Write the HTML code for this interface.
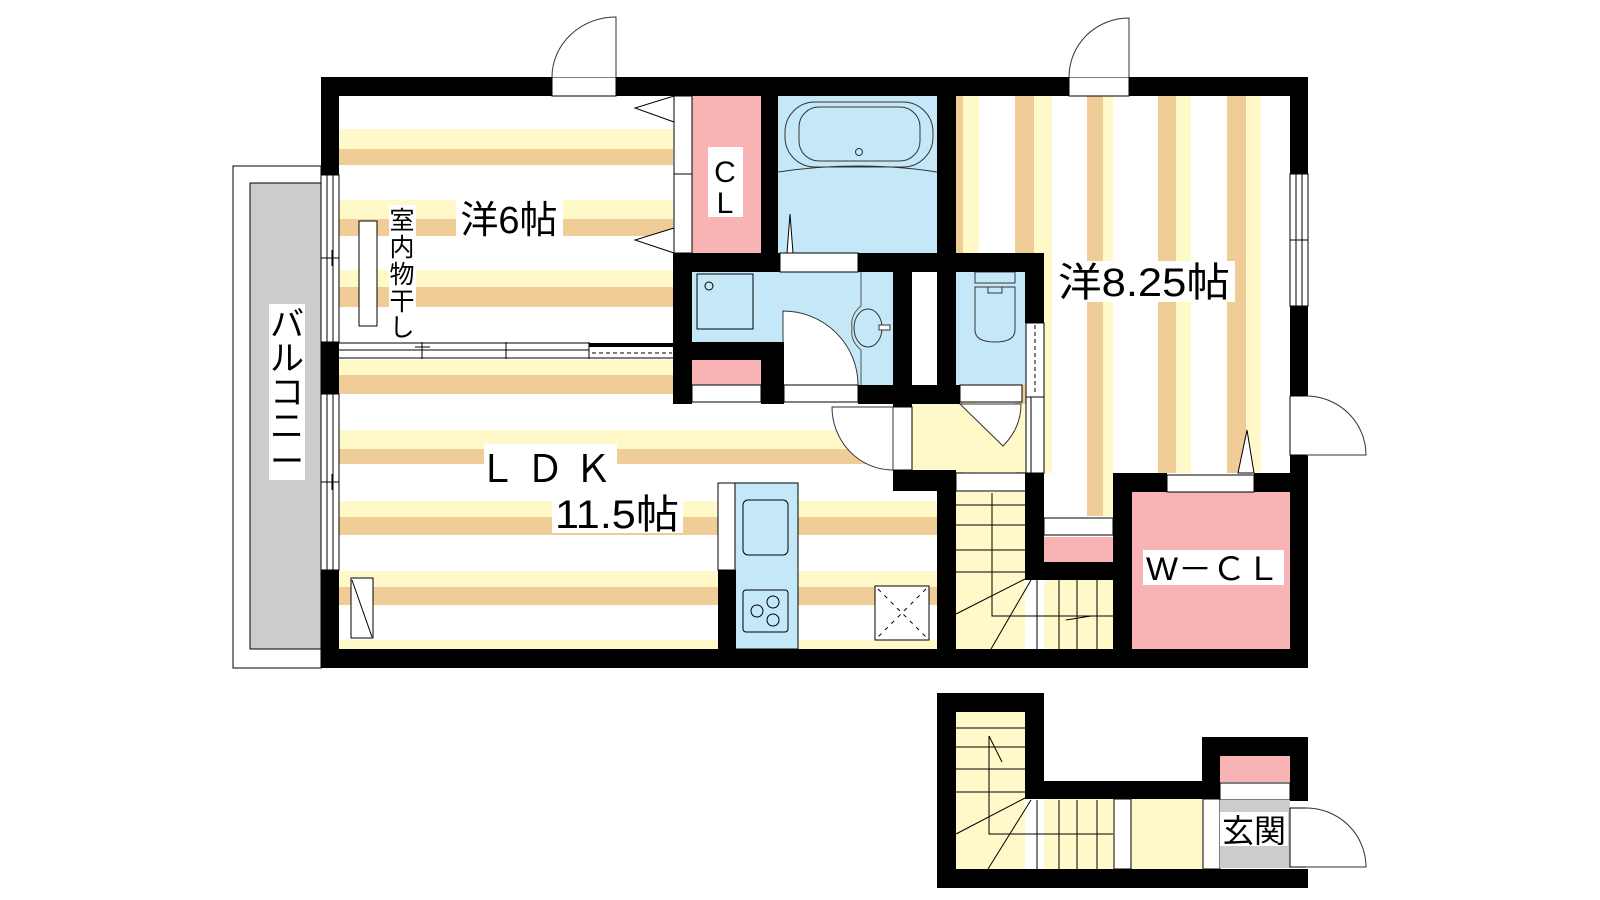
<!DOCTYPE html>
<html><head><meta charset="utf-8"><style>
html,body{margin:0;padding:0;background:#fff;}
svg{display:block;}
text{font-family:"Liberation Sans","Noto Sans CJK JP",sans-serif;fill:#000;}
</style></head><body>
<svg width="1600" height="900" viewBox="0 0 1600 900" xmlns="http://www.w3.org/2000/svg">
<rect width="1600" height="900" fill="#fff"/>
<!-- balcony -->
<rect x="233" y="166" width="88" height="502" fill="#fff" stroke="#000" stroke-width="1"/>
<rect x="250" y="183" width="71" height="466" fill="#ccc" stroke="#000" stroke-width="1"/>

<!-- 6 room stripes -->
<g>
<rect x="339" y="129" width="334" height="20" fill="#fff8c8"/><rect x="339" y="149" width="334" height="16" fill="#f0cc96"/>
<rect x="339" y="200" width="334" height="19" fill="#fff8c8"/><rect x="339" y="219" width="334" height="17" fill="#f0cc96"/>
<rect x="339" y="270" width="334" height="17" fill="#fff8c8"/><rect x="339" y="287" width="334" height="20" fill="#f0cc96"/>
</g>
<!-- LDK stripes -->
<g>
<rect x="339" y="360" width="598" height="15" fill="#fff8c8"/><rect x="339" y="375" width="598" height="19" fill="#f0cc96"/>
<rect x="339" y="430" width="598" height="19" fill="#fff8c8"/><rect x="339" y="449" width="598" height="15" fill="#f0cc96"/>
<rect x="339" y="501" width="598" height="16" fill="#fff8c8"/><rect x="339" y="517" width="598" height="18" fill="#f0cc96"/>
<rect x="339" y="571" width="598" height="16" fill="#fff8c8"/><rect x="339" y="587" width="598" height="18" fill="#f0cc96"/>
<rect x="339" y="640" width="598" height="9" fill="#fff8c8"/>
</g>
<!-- 8.25 room stripes -->
<g>
<rect x="956" y="96" width="7" height="377" fill="#f0cc96"/><rect x="963" y="96" width="16" height="377" fill="#fff8c8"/>
<rect x="1015" y="96" width="19" height="377" fill="#f0cc96"/><rect x="1034" y="96" width="18" height="377" fill="#fff8c8"/>
<rect x="1087" y="96" width="16" height="420" fill="#f0cc96"/><rect x="1103" y="96" width="10" height="420" fill="#fff8c8"/>
<rect x="1158" y="96" width="18" height="377" fill="#f0cc96"/><rect x="1176" y="96" width="15" height="377" fill="#fff8c8"/>
<rect x="1227" y="96" width="19" height="377" fill="#f0cc96"/><rect x="1246" y="96" width="15" height="377" fill="#fff8c8"/>
</g>

<!-- CL -->
<rect x="692" y="96" width="69" height="157" fill="#f8b4b4"/>
<!-- bath -->
<rect x="778" y="96" width="159" height="157" fill="#c4e8f8"/>
<rect x="785" y="102" width="148" height="65" rx="30" fill="none" stroke="#333" stroke-width="1"/>
<rect x="799" y="107" width="121" height="54" rx="20" fill="none" stroke="#333" stroke-width="1"/>
<circle cx="859" cy="152" r="3.5" fill="none" stroke="#333"/>
<path d="M778,172 Q858,160 937,172" fill="none" stroke="#333"/>
<polygon points="787,253 793,253 790,214" fill="#fff" stroke="#000" stroke-width="1"/>

<!-- washroom -->
<rect x="692" y="272" width="201" height="113" fill="#c4e8f8"/>
<rect x="697" y="274" width="56" height="55" fill="none" stroke="#000"/>
<circle cx="709" cy="286" r="4" fill="none" stroke="#000"/>
<path d="M783,385 L783,311 A75,74 0 0 1 858,385 Z" fill="#fff" stroke="#333"/>
<path d="M861,272 L861,306 Q850,315 852,328 Q850,341 861,350 L861,385" fill="none" stroke="#555"/>
<ellipse cx="868" cy="328" rx="14" ry="19" fill="none" stroke="#333"/>
<rect x="879" y="325" width="11" height="5" fill="#fff" stroke="#333"/>
<rect x="692" y="360" width="69" height="25" fill="#f8b4b4"/>
<rect x="692" y="385" width="69" height="17" fill="#fff" stroke="#000"/>
<rect x="784" y="385" width="74" height="17" fill="#fff" stroke="#000"/>
<!-- pipe shaft -->
<rect x="912" y="272" width="26" height="113" fill="#fff"/>
<!-- toilet -->
<rect x="956" y="272" width="70" height="113" fill="#c4e8f8"/>
<rect x="975" y="272" width="40" height="11" fill="none" stroke="#333"/>
<path d="M975,287 L1015,287 L1015,330 Q1015,342 995,342 Q975,342 975,330 Z" fill="none" stroke="#333"/>
<rect x="988" y="287" width="14" height="6" fill="none" stroke="#333"/>
<rect x="960" y="385" width="62" height="17" fill="#fff" stroke="#000"/>
<!-- hallway -->
<rect x="912" y="404" width="114" height="68" fill="#fff8c8"/>
<path d="M960,404 L1003,446 Q1021,428 1021,404 Z" fill="#fff" stroke="#333"/>
<rect x="893" y="407" width="19" height="63" fill="#fff" stroke="#000"/>
<path d="M893,407 L832,407 A61,63 0 0 0 893,470 Z" fill="#fff" stroke="#333"/>
<!-- sliding door right of toilet -->
<rect x="1026" y="323" width="18" height="74" fill="#fff" stroke="#000"/>
<line x1="1035" y1="325" x2="1035" y2="395" stroke="#000" stroke-dasharray="4,3"/>
<rect x="1026" y="397" width="18" height="76" fill="#fff" stroke="#000"/>
<line x1="1031" y1="397" x2="1031" y2="473" stroke="#000"/>
<!-- stairs upper -->
<rect x="956" y="492" width="69" height="157" fill="#fff8c8"/>
<rect x="1044" y="580" width="69" height="69" fill="#fff8c8"/>
<rect x="956" y="473" width="70" height="18" fill="#fff" stroke="#000"/>
<g stroke="#000" stroke-width="1" fill="none">
<line x1="956" y1="505" x2="1025" y2="505"/><line x1="956" y1="525" x2="1025" y2="525"/>
<line x1="956" y1="550" x2="1025" y2="550"/><line x1="956" y1="572" x2="1025" y2="572"/>
<polyline points="992,493 992,616 1113,616"/>
<line x1="1037" y1="580" x2="1037" y2="649"/><line x1="1059" y1="580" x2="1059" y2="649"/>
<line x1="1077" y1="580" x2="1077" y2="649"/><line x1="1097" y1="580" x2="1097" y2="649"/>
<line x1="1025" y1="579" x2="956" y2="614"/><line x1="1031" y1="580" x2="991" y2="649"/>
<line x1="1066" y1="620" x2="1091" y2="616"/>
</g>
<!-- corridor end -->
<rect x="1044" y="518" width="69" height="17" fill="#fff" stroke="#000"/>
<rect x="1044" y="537" width="69" height="25" fill="#f8b4b4"/>
<!-- W-CL -->
<rect x="1132" y="492" width="158" height="157" fill="#f8b4b4"/>
<rect x="1167" y="475" width="87" height="17" fill="#fff" stroke="#000"/>
<polygon points="1238,473 1254,473 1247,430" fill="#fff" stroke="#000"/>

<!-- kitchen -->
<rect x="718" y="483" width="17" height="87" fill="#fff" stroke="#000"/>
<rect x="735" y="483" width="63" height="166" fill="#c4e8f8" stroke="#000"/>
<rect x="743" y="500" width="45" height="55" rx="5" fill="none" stroke="#000"/>
<rect x="743" y="590" width="45" height="42" rx="3" fill="none" stroke="#000"/>
<circle cx="757" cy="611" r="6" fill="none" stroke="#000"/><circle cx="773" cy="602" r="6" fill="none" stroke="#000"/><circle cx="773" cy="620" r="6" fill="none" stroke="#000"/>
<rect x="875" y="586" width="54" height="54" fill="#fff" stroke="#000"/>
<line x1="878" y1="589" x2="926" y2="637" stroke="#000" stroke-dasharray="4,5"/>
<line x1="926" y1="589" x2="878" y2="637" stroke="#000" stroke-dasharray="4,5"/>
<!-- panel -->
<rect x="351" y="578" width="22" height="60" fill="#fff" stroke="#000"/>
<line x1="352" y1="580" x2="372" y2="637" stroke="#000"/>
<!-- drying rack -->
<rect x="359" y="221" width="18" height="105" fill="#fff" stroke="#000"/>
<!-- partition -->
<rect x="339" y="342" width="334" height="16" fill="#fff"/>
<g stroke="#000" stroke-width="1">
<line x1="339" y1="343" x2="589" y2="343"/><line x1="339" y1="350" x2="589" y2="350"/><line x1="339" y1="358" x2="673" y2="358"/>
<line x1="422" y1="342" x2="422" y2="359"/><line x1="506" y1="342" x2="506" y2="359"/><line x1="589" y1="342" x2="589" y2="359"/>
<line x1="415" y1="347" x2="430" y2="347"/>
<line x1="592" y1="353" x2="672" y2="353" stroke-dasharray="4,3"/>
</g>
<rect x="589" y="343" width="84" height="4" fill="#000"/>
<!-- closet door strip -->
<rect x="674" y="96" width="18" height="157" fill="#fff" stroke="#000"/>
<line x1="674" y1="174" x2="692" y2="174" stroke="#000"/>
<polygon points="674,96 635,108 674,122" fill="#fff" stroke="#000"/>
<polygon points="674,228 635,240 674,253" fill="#fff" stroke="#000"/>
<rect x="780" y="253" width="78" height="19" fill="#fff" stroke="#000"/>

<!-- WALLS -->
<g fill="#000">
<rect x="321" y="77" width="231" height="19"/><rect x="616" y="77" width="453" height="19"/><rect x="1129" y="77" width="179" height="19"/>
<rect x="321" y="77" width="18" height="98"/><rect x="321" y="342" width="18" height="52"/><rect x="321" y="570" width="18" height="98"/>
<rect x="321" y="649" width="987" height="19"/>
<rect x="1290" y="77" width="18" height="97"/><rect x="1290" y="306" width="18" height="90"/><rect x="1290" y="455" width="18" height="213"/>
<rect x="761" y="96" width="17" height="157"/>
<rect x="937" y="96" width="19" height="177"/>
<rect x="673" y="253" width="107" height="19"/><rect x="858" y="253" width="186" height="19"/>
<rect x="673" y="253" width="19" height="151"/>
<rect x="673" y="342" width="111" height="18"/><rect x="761" y="342" width="23" height="62"/>
<rect x="858" y="385" width="102" height="19"/>
<rect x="893" y="272" width="19" height="135"/><rect x="937" y="272" width="19" height="132"/>
<rect x="1025" y="253" width="19" height="70"/>
<rect x="893" y="470" width="63" height="21"/>
<rect x="937" y="470" width="19" height="179"/>
<rect x="718" y="570" width="18" height="79"/>
<rect x="1025" y="473" width="19" height="107"/><rect x="1025" y="562" width="107" height="18"/>
<rect x="1113" y="473" width="19" height="176"/><rect x="1113" y="473" width="54" height="19"/><rect x="1254" y="473" width="54" height="19"/>
</g>
<!-- top doors -->
<rect x="552" y="77" width="64" height="19" fill="#fff" stroke="#000"/>
<path d="M616,77 L616,17 A64,60 0 0 0 552,77" fill="#fff" stroke="#333"/>
<rect x="1069" y="77" width="60" height="19" fill="#fff" stroke="#000"/>
<path d="M1129,77 L1129,18 A60,59 0 0 0 1069,77" fill="#fff" stroke="#333"/>
<!-- side windows -->
<g fill="#fff" stroke="#000">
<rect x="321" y="175" width="18" height="167"/><rect x="321" y="394" width="18" height="176"/>
<rect x="1290" y="174" width="18" height="132"/>
</g>
<g stroke="#000">
<line x1="327" y1="175" x2="327" y2="342"/><line x1="333" y1="175" x2="333" y2="342"/>
<line x1="327" y1="394" x2="327" y2="570"/><line x1="333" y1="394" x2="333" y2="570"/>
<line x1="321" y1="258" x2="339" y2="258"/><line x1="332" y1="250" x2="332" y2="266"/>
<line x1="321" y1="482" x2="339" y2="482"/><line x1="332" y1="474" x2="332" y2="490"/>
<line x1="1296" y1="174" x2="1296" y2="306"/><line x1="1302" y1="174" x2="1302" y2="306"/>
<line x1="1290" y1="240" x2="1308" y2="240"/>
</g>
<rect x="1290" y="396" width="18" height="59" fill="#fff" stroke="#000"/>
<path d="M1306,455 L1366,455 A60,59 0 0 0 1306,396" fill="#fff" stroke="#333"/>

<!-- LOWER PART -->
<rect x="956" y="712" width="69" height="157" fill="#fff8c8"/>
<rect x="1044" y="799" width="176" height="70" fill="#fff8c8"/>
<rect x="1114" y="799" width="17" height="70" fill="#fff" stroke="#000"/>
<rect x="1203" y="799" width="17" height="70" fill="#fff" stroke="#000"/>
<g stroke="#000" fill="none">
<line x1="956" y1="728" x2="1025" y2="728"/><line x1="956" y1="747" x2="1025" y2="747"/>
<line x1="956" y1="769" x2="1025" y2="769"/><line x1="956" y1="792" x2="1025" y2="792"/>
<polyline points="989,736 989,834 1113,834"/>
<line x1="1037" y1="800" x2="1037" y2="869"/><line x1="1059" y1="800" x2="1059" y2="869"/>
<line x1="1077" y1="800" x2="1077" y2="869"/><line x1="1097" y1="800" x2="1097" y2="869"/>
<line x1="1025" y1="798" x2="956" y2="834"/><line x1="1031" y1="800" x2="988" y2="869"/>
<line x1="989" y1="736" x2="1002" y2="762"/>
</g>
<rect x="1220" y="756" width="70" height="26" fill="#f8b4b4"/>
<rect x="1220" y="783" width="70" height="17" fill="#fff" stroke="#000"/>
<rect x="1220" y="800" width="70" height="68" fill="#ccc"/>
<g fill="#000">
<rect x="937" y="693" width="107" height="19"/>
<rect x="937" y="693" width="19" height="195"/>
<rect x="1025" y="693" width="19" height="106"/>
<rect x="1025" y="781" width="195" height="18"/>
<rect x="1202" y="737" width="106" height="19"/>
<rect x="1202" y="737" width="18" height="62"/>
<rect x="1290" y="737" width="18" height="64"/>
<rect x="937" y="869" width="371" height="19"/>
</g>
<rect x="1290" y="808" width="18" height="59" fill="#fff" stroke="#000"/>
<path d="M1306,867 L1366,867 A60,59 0 0 0 1306,808" fill="#fff" stroke="#333"/>

<!-- LABELS -->
<rect x="456" y="200" width="107" height="40" fill="#fff"/>
<text x="509" y="233" font-size="38" text-anchor="middle">洋6帖</text>
<rect x="389" y="205" width="27" height="133" fill="#fff"/>
<g font-size="25" text-anchor="middle">
<text x="402" y="229">室</text><text x="402" y="256">内</text><text x="402" y="283">物</text><text x="402" y="310">干</text><text x="402" y="336">し</text>
</g>
<rect x="708" y="147" width="35" height="70" fill="#fff"/>
<text x="725" y="182" font-size="30" text-anchor="middle">C</text>
<text x="725" y="213" font-size="30" text-anchor="middle">L</text>
<rect x="484" y="444" width="133" height="44" fill="#fff"/>
<text x="550" y="482" font-size="38" text-anchor="middle" letter-spacing="10">ＬＤＫ</text>
<rect x="552" y="492" width="131" height="41" fill="#fff"/>
<text x="555" y="528" font-size="40" textLength="124" lengthAdjust="spacingAndGlyphs">11.5帖</text>
<rect x="1055" y="261" width="180" height="41" fill="#fff"/>
<text x="1058" y="296" font-size="40" textLength="172" lengthAdjust="spacingAndGlyphs">洋8.25帖</text>
<rect x="1143" y="550" width="141" height="35" fill="#fff"/>
<text x="1146" y="580" font-size="32" textLength="134" lengthAdjust="spacingAndGlyphs">W－ＣＬ</text>
<rect x="1220" y="812" width="68" height="34" fill="#fff"/>
<text x="1254" y="842" font-size="32" text-anchor="middle">玄関</text>
<rect x="269" y="304" width="36" height="176" fill="#fff"/>
<g font-size="34" text-anchor="middle">
<text x="287" y="336">バ</text><text x="287" y="370">ル</text><text x="287" y="404">コ</text><text x="287" y="438">ニ</text><text x="287" y="473">ー</text>
</g>
</svg>
</body></html>
